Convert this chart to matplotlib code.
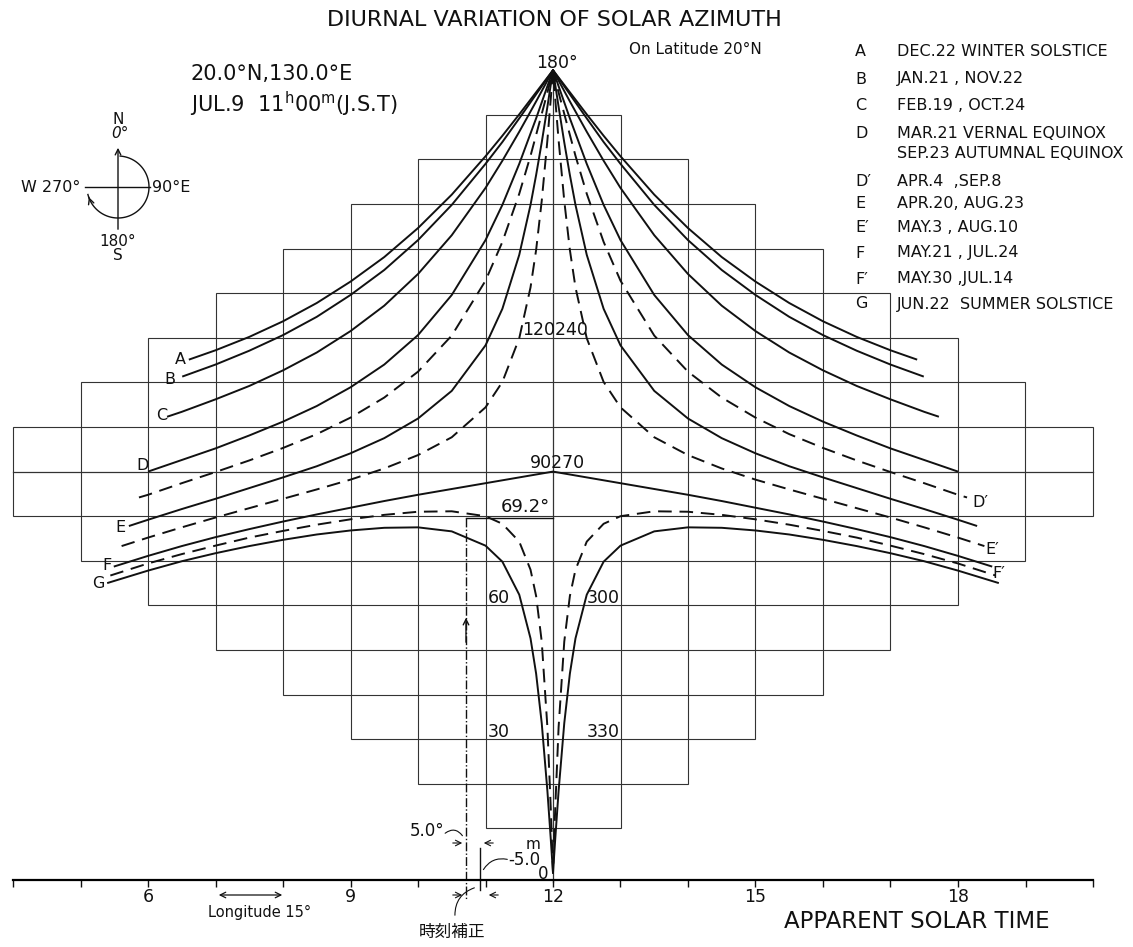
import matplotlib
matplotlib.use('Agg')
import matplotlib.pyplot as plt
import numpy as np
from matplotlib.patches import Rectangle

# ---------------- data (morning half, apparent solar time in hours; azimuth in degrees) ----------------
t_A = [6.605, 7.0, 7.5, 8.0, 8.5, 9.0, 9.5, 10.0, 10.5, 11.0, 11.25, 11.5, 12.0]
az_A = [115.1, 117.2, 120.2, 123.7, 127.8, 132.6, 138.1, 144.6, 152.1, 160.7, 165.3, 170.1, 180.0]

t_B = [6.507, 7.0, 7.5, 8.0, 8.5, 9.0, 9.5, 10.0, 10.5, 11.0, 11.25, 11.5, 12.0]
az_B = [111.3, 114.0, 117.1, 120.6, 124.7, 129.6, 135.2, 141.9, 149.8, 159.0, 163.9, 169.2, 180.0]

t_C = [6.283, 6.5, 7.0, 7.5, 8.0, 8.5, 9.0, 9.5, 10.0, 10.5, 11.0, 11.25, 11.5, 11.75, 12.0]
az_C = [102.3, 103.4, 106.2, 109.2, 112.7, 116.7, 121.5, 127.2, 134.3, 143.0, 153.6, 159.7, 166.2, 173.0, 180.0]

t_D = [6.0, 6.5, 7.0, 7.5, 8.0, 8.5, 9.0, 9.5, 10.0, 10.5, 11.0, 11.25, 11.5, 11.75, 12.0]
az_D = [90.0, 92.6, 95.2, 98.1, 101.2, 104.7, 108.9, 114.0, 120.6, 129.6, 141.9, 149.8, 159.0, 169.2, 180.0]

t_D2 = [5.866, 6.0, 6.5, 7.0, 7.5, 8.0, 8.5, 9.0, 9.5, 10.0, 10.5, 11.0, 11.25, 11.5, 11.667, 11.833, 11.917, 12.0]
az_D2 = [84.2, 84.8, 87.4, 89.9, 92.5, 95.3, 98.4, 102.1, 106.6, 112.4, 120.5, 132.8, 141.5, 152.3, 160.8, 170.2, 175.0, 180.0]

t_E = [5.717, 6.0, 6.5, 7.0, 7.5, 8.0, 8.5, 9.0, 9.5, 10.0, 10.5, 11.0, 11.25, 11.5, 11.667, 11.75, 11.833, 11.917, 12.0]
az_E = [77.8, 79.2, 81.6, 83.9, 86.3, 88.7, 91.2, 94.1, 97.5, 101.9, 108.1, 118.3, 126.5, 138.6, 149.8, 156.5, 163.8, 171.8, 180.0]

t_E2 = [5.609, 6.0, 6.5, 7.0, 7.5, 8.0, 8.5, 9.0, 9.5, 10.0, 10.5, 11.0, 11.25, 11.5, 11.667, 11.75, 11.833, 11.917, 11.967, 12.0]
az_E2 = [73.3, 75.2, 77.5, 79.7, 81.8, 83.9, 86.0, 88.2, 90.7, 93.7, 97.7, 104.4, 110.1, 119.9, 131.3, 139.7, 150.7, 164.3, 173.6, 180.0]

t_F = [5.493, 6.0, 6.5, 7.0, 7.5, 8.0, 8.5, 9.0, 9.5, 10.0, 10.5, 11.0, 11.5, 12.0]
az_F = [68.7, 71.1, 73.3, 75.3, 77.1, 78.8, 80.4, 81.9, 83.4, 84.8, 86.1, 87.4, 88.7, 90.0]

t_F2 = [5.442, 6.0, 6.5, 7.0, 7.5, 8.0, 8.5, 9.0, 9.5, 10.0, 10.5, 11.0, 11.25, 11.5, 11.667, 11.75, 11.833, 11.917, 11.967, 12.0]
az_F2 = [66.7, 69.4, 71.5, 73.4, 75.2, 76.7, 78.1, 79.3, 80.3, 81.0, 81.1, 80.0, 78.3, 74.3, 68.0, 62.1, 51.9, 32.7, 14.5, 0.0]

t_G = [5.395, 6.0, 6.5, 7.0, 7.5, 8.0, 8.5, 9.0, 9.5, 10.0, 10.5, 11.0, 11.25, 11.5, 11.667, 11.75, 11.833, 11.917, 11.967, 12.0]
az_G = [65.0, 67.8, 69.9, 71.7, 73.3, 74.7, 75.9, 76.8, 77.4, 77.5, 76.6, 73.4, 69.8, 62.4, 52.6, 44.7, 33.6, 18.4, 7.6, 0.0]

curve_names = ["A", "B", "C", "D", "D'", "E", "E'", "F", "F'", "G"]
curve_dashed = [False, False, False, False, True, False, True, False, True, False]
curve_data = [(t_A, az_A), (t_B, az_B), (t_C, az_C), (t_D, az_D), (t_D2, az_D2),
              (t_E, az_E), (t_E2, az_E2), (t_F, az_F), (t_F2, az_F2), (t_G, az_G)]

legend_letters = ["A", "B", "C", "D", "", "D\u2032", "E", "E\u2032", "F", "F\u2032", "G"]
legend_texts = ["DEC.22 WINTER SOLSTICE", "JAN.21 , NOV.22", "FEB.19 , OCT.24",
                "MAR.21 VERNAL EQUINOX", "SEP.23 AUTUMNAL EQUINOX", "APR.4  ,SEP.8",
                "APR.20, AUG.23", "MAY.3 , AUG.10", "MAY.21 , JUL.24", "MAY.30 ,JUL.14",
                "JUN.22  SUMMER SOLSTICE"]

hour_ticks = list(range(4, 21))
hour_labels = [6, 9, 12, 15, 18]

# ---------------- layout helpers ----------------
W, H = 1133, 947
fig = plt.figure(figsize=(W / 100, H / 100), dpi=100)
ax = fig.add_axes([0, 0, 1, 1])

X_NOON, PX_PER_H = 553.0, 67.5
Y_ZERO, PX_PER_DEG = 873.0, 4.46


def P(px, py):
    return (12 + (px - X_NOON) / PX_PER_H, (Y_ZERO - py) / PX_PER_DEG)


x0, y1 = P(0, 0)
x1, y0 = P(W, H)
ax.set_xlim(x0, x1)
ax.set_ylim(y0, y1)

FONT = 'DejaVu Sans'
plt.rcParams['font.family'] = [FONT]
INK = '#111111'
GRID = '#333333'

# ---------------- grid: nested boxes forming a diamond ----------------
for k in range(1, 9):
    half = (9 - k) * 10
    ax.add_patch(Rectangle((12 - k, 90 - half), 2 * k, 2 * half, fill=False, lw=0.8, ec=GRID, zorder=1))
ax.plot([12, 12], [P(0, 882)[1], 180], color=GRID, lw=0.9, zorder=1)
ax.plot([4, 20], [90, 90], color=GRID, lw=0.9, zorder=1)

# ---------------- curves ----------------
for name, dashed, (t, az) in zip(curve_names, curve_dashed, curve_data):
    t = np.asarray(t)
    az = np.asarray(az)
    tt = np.concatenate([t, (24 - t[:-1])[::-1]])
    aa = np.concatenate([az, az[:-1][::-1]])
    ls = (0, (7, 4)) if dashed else '-'
    ax.plot(tt, aa, color=INK, lw=1.4, ls=ls, zorder=3, solid_capstyle='butt')

# curve labels
left_lab = {"A": (180, 360), "B": (170, 379), "C": (162, 416), "D": (143, 466),
            "E": (120, 528), "F": (107, 565), "G": (98, 583)}
for k, (px, py) in left_lab.items():
    ax.text(*P(px, py), k, ha='center', va='center', fontsize=11.5, color=INK)
right_lab = {"D\u2032": (972, 502), "E\u2032": (985, 550), "F\u2032": (992, 574)}
for k, (px, py) in right_lab.items():
    ax.text(*P(px, py), k, ha='left', va='center', fontsize=11.5, color=INK)

# azimuth annotations along centre
for s, (px, py), ha in [("180\u00b0", (557, 63), 'center'), ("120240", (555, 330), 'center'),
                        ("90270", (557, 463), 'center'), ("60", (488, 598), 'left'),
                        ("300", (587, 598), 'left'), ("30", (488, 732), 'left'),
                        ("330", (587, 732), 'left')]:
    ax.text(*P(px, py), s, ha=ha, va='center', fontsize=12.5, color=INK)

# ---------------- x axis ----------------
for s in ['top', 'right', 'left']:
    ax.spines[s].set_visible(False)
ax.spines['bottom'].set_position(('data', P(0, 880)[1]))
ax.spines['bottom'].set_bounds(4, 20)
ax.spines['bottom'].set_linewidth(1.6)
ax.set_xticks(hour_ticks)
ax.set_xticklabels([str(h) if h in hour_labels else '' for h in hour_ticks])
ax.tick_params(axis='x', direction='out', length=5, width=1, labelsize=12.5, pad=1, colors=INK)
ax.set_yticks([])

ax.text(*P(917, 921), "APPARENT SOLAR TIME", ha='center', va='center', fontsize=16.5, color=INK)
ax.annotate('', xy=P(216, 895), xytext=P(285, 895),
            arrowprops=dict(arrowstyle='<->', lw=0.9, color=INK))
ax.text(*P(260, 912), "Longitude 15\u00b0", ha='center', va='center', fontsize=10.5, color=INK)

# ---------------- titles ----------------
ax.text(*P(554, 20), "DIURNAL VARIATION OF SOLAR AZIMUTH", ha='center', va='center', fontsize=16, color=INK)
ax.text(*P(695, 50), "On Latitude 20\u00b0N", ha='center', va='center', fontsize=11, color=INK)
ax.text(*P(190, 74), "20.0\u00b0N,130.0\u00b0E", ha='left', va='center', fontsize=15, color=INK)
ax.text(*P(190, 104), "JUL.9  11$^{\\rm h}$00$^{\\rm m}$(J.S.T)", ha='left', va='center', fontsize=15, color=INK)

# ---------------- legend ----------------
leg_y = [52, 79, 106, 133, 154, 182, 204, 228, 253, 279, 304]
for lt, tx, y in zip(legend_letters, legend_texts, leg_y):
    if lt:
        ax.text(*P(855, y), lt, ha='left', va='center', fontsize=11.5, color=INK)
    ax.text(*P(897, y), tx, ha='left', va='center', fontsize=11.5, color=INK)

# ---------------- compass ----------------
cx, cy, r = 118, 187, 31
ax.plot(*zip(P(85, cy), P(150, cy)), color=INK, lw=1.0)
ax.annotate('', xy=P(cx, 145), xytext=P(cx, 232), arrowprops=dict(arrowstyle='->', lw=1.0, color=INK))
th = np.radians(np.linspace(86, -166, 120))
arc = [P(cx + r * np.cos(a), cy - r * np.sin(a)) for a in th]
ax.plot([p[0] for p in arc], [p[1] for p in arc], color=INK, lw=1.0)
ax.annotate('', xy=arc[-1], xytext=arc[-6], arrowprops=dict(arrowstyle='->', lw=1.0, color=INK))
ax.text(*P(cx, 119), "N", ha='center', va='center', fontsize=11, color=INK)
ax.text(*P(cx + 2, 133), "0\u00b0", ha='center', va='center', fontsize=11, style='italic', color=INK)
ax.text(*P(80, cy), "W 270\u00b0", ha='right', va='center', fontsize=11.5, color=INK)
ax.text(*P(152, cy + 1), "90\u00b0E", ha='left', va='center', fontsize=11.5, color=INK)
ax.text(*P(cx, 241), "180\u00b0", ha='center', va='center', fontsize=11, color=INK)
ax.text(*P(cx, 256), "S", ha='center', va='center', fontsize=11, color=INK)

# ---------------- time correction annotation ----------------
xd = 466
ax.plot(*zip(P(xd, 518), P(xd, 900)), color=INK, lw=1.0, ls='-.', zorder=2)
ax.plot(*zip(P(xd, 518), P(X_NOON, 518)), color=INK, lw=1.0, zorder=2)
ax.text(*P(525, 507), "69.2\u00b0", ha='center', va='center', fontsize=13, color=INK)
ax.annotate('', xy=P(xd, 615), xytext=P(xd, 645), arrowprops=dict(arrowstyle='->', lw=1.0, color=INK))
ax.plot(*zip(P(480, 848), P(480, 890)), color=INK, lw=1.0)
ax.annotate('', xy=P(xd - 1, 843), xytext=P(xd - 16, 843), arrowprops=dict(arrowstyle='->', lw=0.8, color=INK))
ax.annotate('', xy=P(481, 843), xytext=P(496, 843), arrowprops=dict(arrowstyle='->', lw=0.8, color=INK))
ax.annotate('', xy=P(xd - 1, 895), xytext=P(xd - 16, 895), arrowprops=dict(arrowstyle='->', lw=0.8, color=INK))
ax.annotate('', xy=P(486, 895), xytext=P(501, 895), arrowprops=dict(arrowstyle='->', lw=0.8, color=INK))
ax.text(*P(427, 831), "5.0\u00b0", ha='center', va='center', fontsize=12, color=INK)
ax.annotate('', xy=P(xd - 2, 838), xytext=P(443, 835),
            arrowprops=dict(arrowstyle='-', lw=0.8, color=INK, connectionstyle='arc3,rad=-0.6'))
ax.text(*P(524, 860), "-5.0", ha='center', va='center', fontsize=12, color=INK)
ax.text(*P(533, 844), "m", ha='center', va='center', fontsize=11, color=INK)
ax.text(*P(543, 874), "0", ha='center', va='center', fontsize=12, color=INK)
ax.annotate('', xy=P(482, 872), xytext=P(510, 860),
            arrowprops=dict(arrowstyle='-', lw=0.8, color=INK, connectionstyle='arc3,rad=0.4'))
ax.text(*P(452, 932), "\u6642\u523b\u88dc\u6b63", ha='center', va='center', fontsize=12,
        family=['Noto Sans CJK JP', 'DejaVu Sans'], color=INK)
ax.annotate('', xy=P(477, 887), xytext=P(455, 918),
            arrowprops=dict(arrowstyle='-', lw=0.8, color=INK, connectionstyle='arc3,rad=-0.4'))

fig.savefig('out.png', dpi=100, facecolor='white')
